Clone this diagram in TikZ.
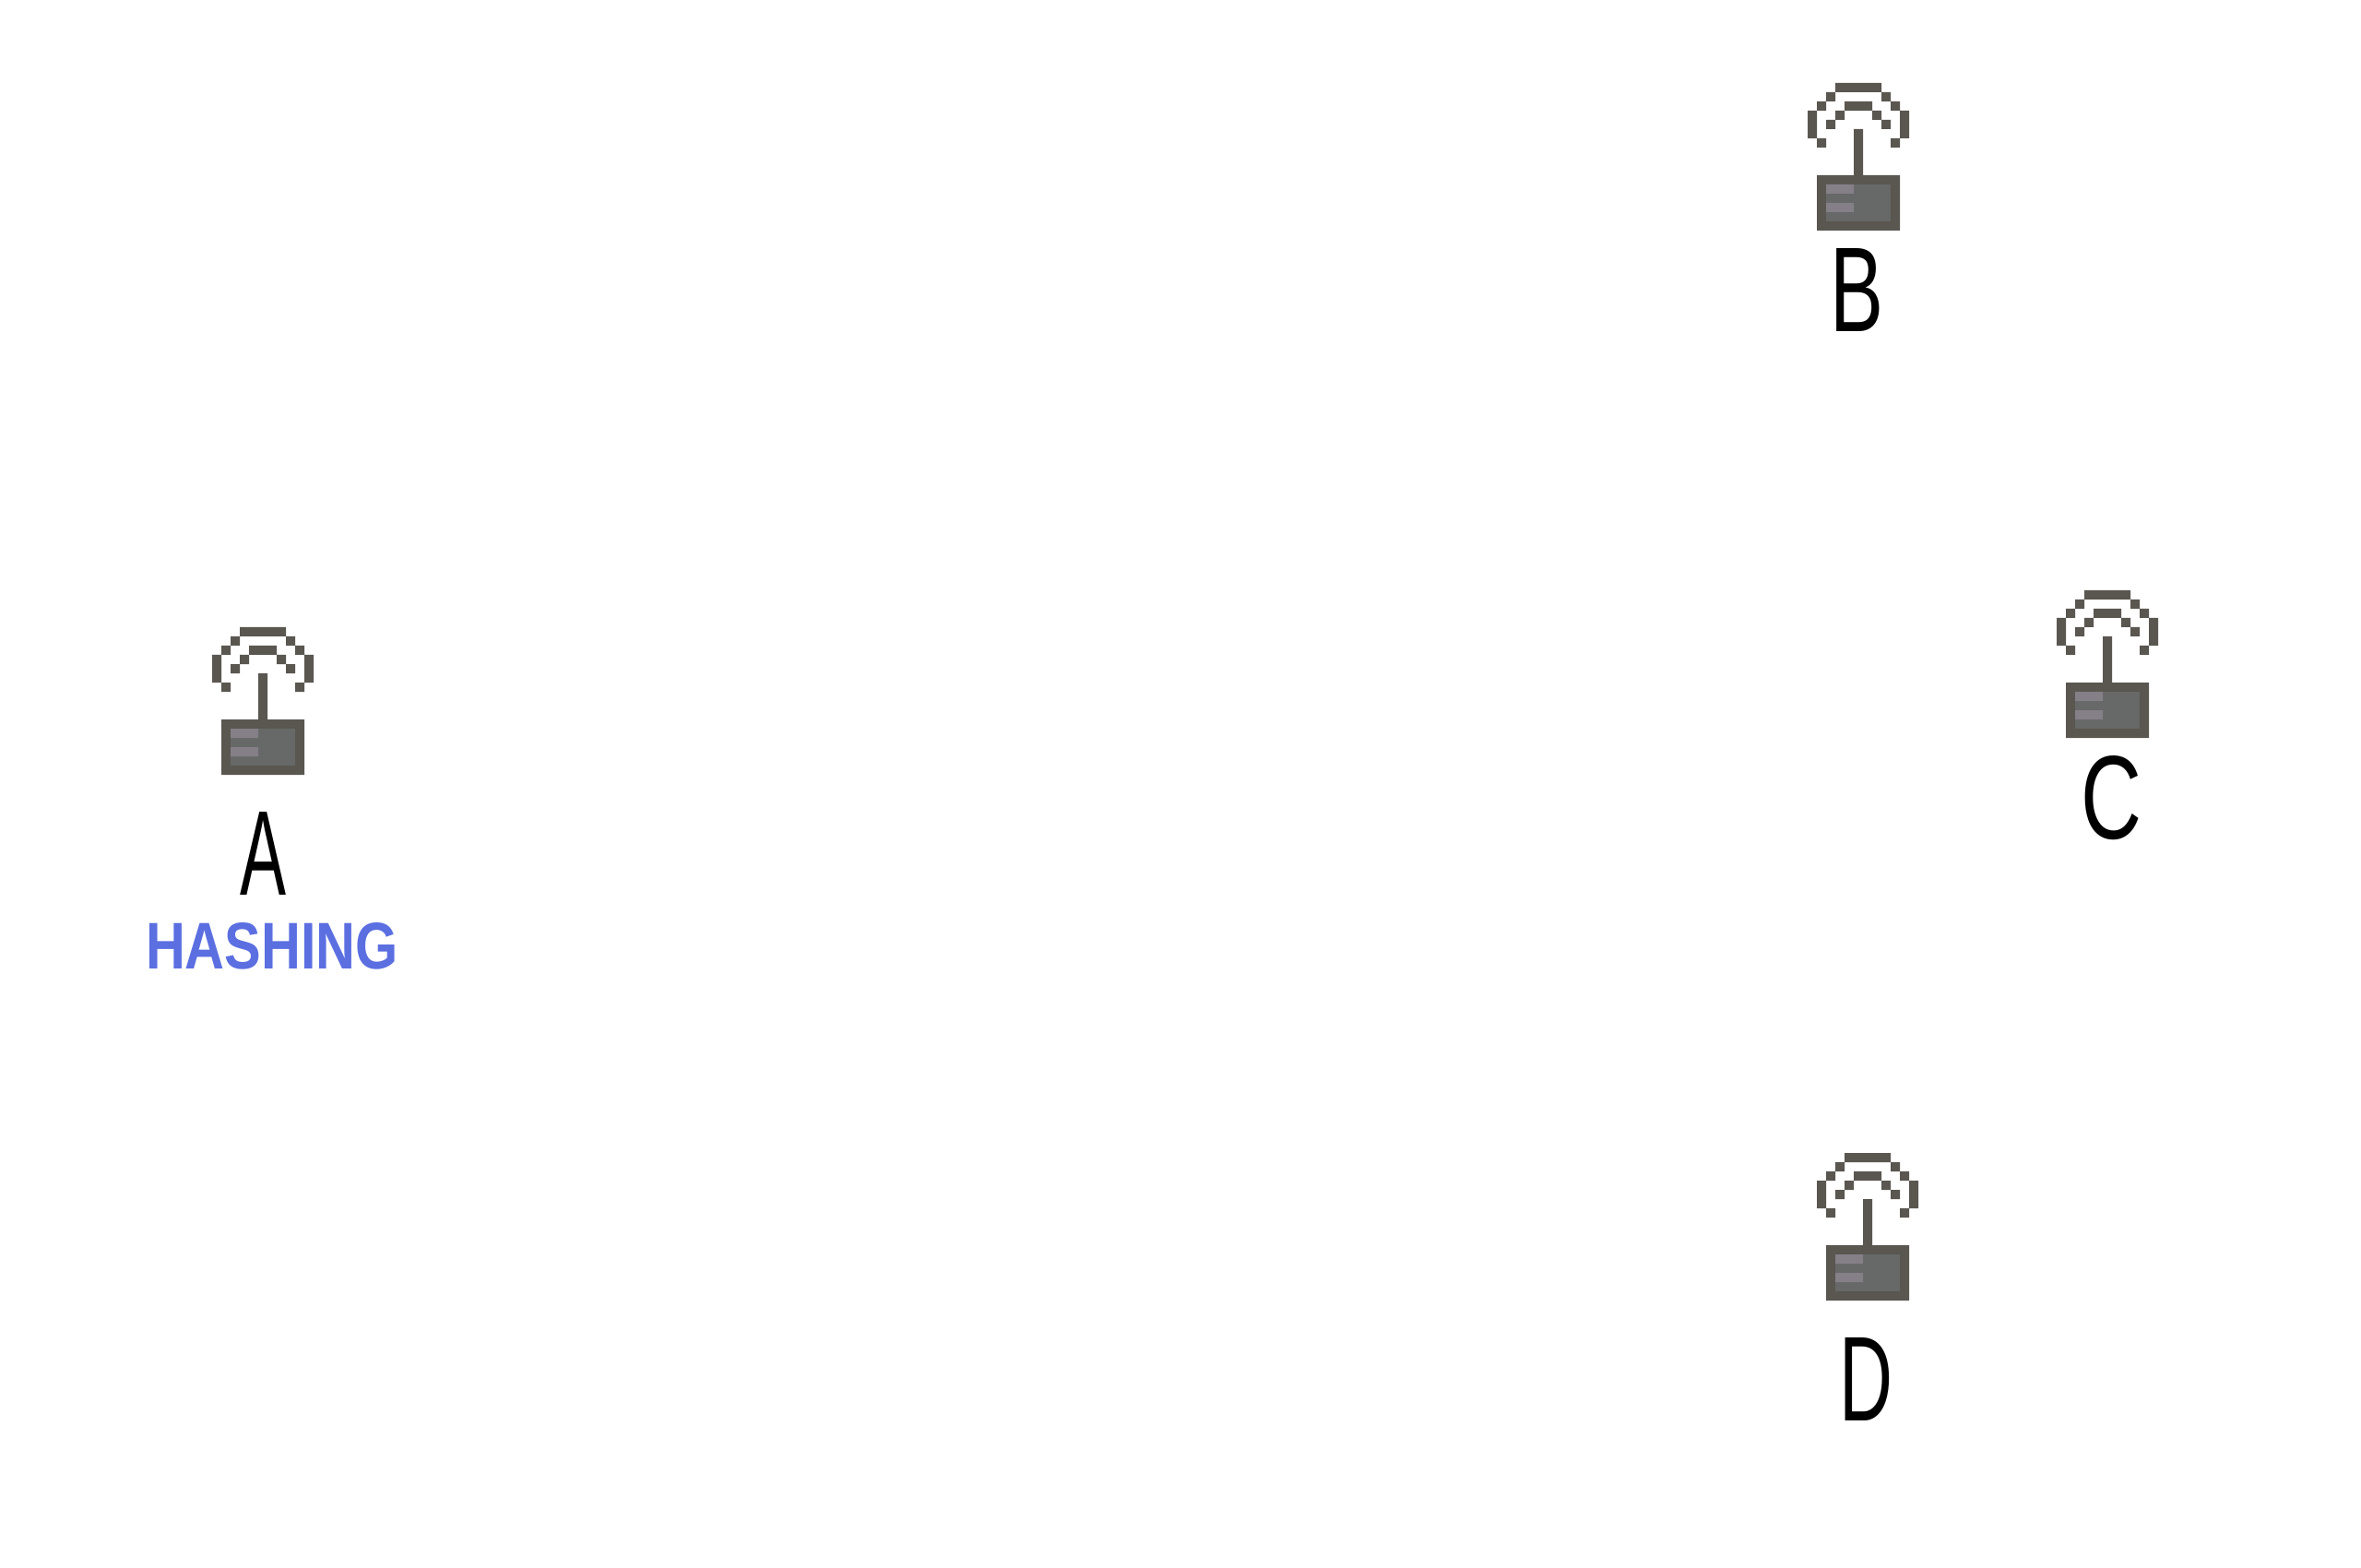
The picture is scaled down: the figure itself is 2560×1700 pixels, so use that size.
\documentclass[tikz,border=0pt]{standalone}
\usepackage{graphicx}
\usepackage{fontspec}
\setmainfont{Liberation Sans}
\definecolor{stationdark}{HTML}{5A5650}
\definecolor{stationface}{HTML}{666967}
\definecolor{stationlight}{HTML}{857F88}
\definecolor{statusblue}{HTML}{5B6FE1}
\newcommand{\stationletter}[2]{\resizebox{#1}{45pt}{\fontsize{60}{60}\selectfont #2}}
\tikzset{
  stationlabel/.style={anchor=base west,inner sep=0pt,outer sep=0pt,text=black},
  statuslabel/.style={anchor=base west,inner sep=0pt,outer sep=0pt,text=statusblue},
  station/.pic={
    \fill[stationdark]
      (30,0) rectangle (80,10)
      (20,10) rectangle (30,20) (80,10) rectangle (90,20)
      (10,20) rectangle (20,30) (40,20) rectangle (70,30) (90,20) rectangle (100,30)
      (0,30) rectangle (10,60) (100,30) rectangle (110,60)
      (30,30) rectangle (40,40) (70,30) rectangle (80,40)
      (20,40) rectangle (30,50) (80,40) rectangle (90,50)
      (10,60) rectangle (20,70) (90,60) rectangle (100,70)
      (50,50) rectangle (60,100)
      (10,100) rectangle (100,160);
    \fill[stationface] (20,110) rectangle (90,150);
    \fill[stationlight] (20,110) rectangle (50,120) (20,130) rectangle (50,140);
  }
}
\begin{document}
\begin{tikzpicture}[x=0.5pt,y=-0.5pt]
  \useasboundingbox (0,0) rectangle (2560,1700);
  \fill[white] (0,0) rectangle (2560,1700);
  \pic (stationA) at (230,680) {station};
  \pic (stationB) at (1960,90) {station};
  \pic (stationC) at (2230,640) {station};
  \pic (stationD) at (1970,1250) {station};
  \node[stationlabel] (labelA) at (260,970) {\stationletter{25pt}{A}};
  \node[stationlabel] (labelB) at (1984,360) {\stationletter{29pt}{B}};
  \node[stationlabel] (labelC) at (2256,909) {\stationletter{33pt}{C}};
  \node[stationlabel] (labelD) at (1994,1540) {\stationletter{29pt}{D}};
  \node[statuslabel] (status) at (158,1050) {\resizebox{137pt}{25pt}{\fontsize{35}{35}\selectfont\bfseries HASHING}};
\end{tikzpicture}
\end{document}
